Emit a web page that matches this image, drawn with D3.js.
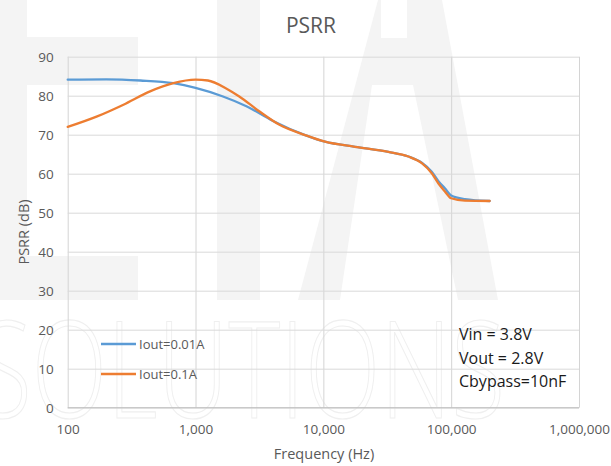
<!DOCTYPE html>
<html lang="en">
<head>
<meta charset="utf-8">
<title>PSRR</title>
<script src="https://cdn.jsdelivr.net/npm/d3@7/dist/d3.min.js"></script>
<style>
  body { margin: 0; background: #fff; }
  svg { display: block; font-family: "Open Sans", "DejaVu Sans", sans-serif; }
</style>
</head>
<body>
<div id="chart"></div>
<script>
// chart values
var freqTicks = [100, 1000, 10000, 100000, 1000000];
var dbTicks = [0, 10, 20, 30, 40, 50, 60, 70, 80, 90];

var seriesNames = ["Iout=0.01A", "Iout=0.1A"];
var seriesColors = ["#5b9bd5", "#ed7d31"];

var lowFreq = [100, 200, 370, 670, 1000, 1640, 2500, 4000, 7200, 10300, 17700, 32300, 46300, 58900, 70500, 79500, 89600, 100000, 128000, 200000];
var lowDb   = [84.1, 84.2, 83.9, 83.2, 82.0, 79.8, 77.3, 73.6, 69.9, 68.2, 66.9, 65.6, 64.4, 62.8, 60.5, 58.1, 56.2, 54.4, 53.5, 53.0];

var highFreq = [100, 170, 273, 441, 670, 1000, 1250, 1750, 2200, 3150, 4500, 7200, 10300, 17700, 32300, 46300, 58900, 70500, 79500, 89600, 100000, 128000, 200000];
var highDb   = [72.0, 74.7, 77.7, 81.1, 83.2, 84.1, 83.9, 81.8, 79.8, 76.0, 72.6, 69.9, 68.2, 66.9, 65.6, 64.4, 62.7, 60.1, 57.5, 55.4, 53.7, 53.1, 53.0];

var notes = ["Vin = 3.8V", "Vout = 2.8V", "Cbypass=10nF"];

var width = 611, height = 466;
var plotLeft = 67.7, plotRight = 579, plotTop = 56.7, plotBottom = 407.7;

var svg = d3.select("#chart").append("svg")
    .attr("width", width)
    .attr("height", height);

svg.append("rect").attr("width", width).attr("height", height).attr("fill", "#fff");

// faint watermark behind everything
var wm = svg.append("g").attr("fill", "#f4f4f4");
wm.append("rect").attr("x", 0).attr("y", 0).attr("width", 27).attr("height", 300);
wm.append("rect").attr("x", 0).attr("y", 37).attr("width", 138).attr("height", 48);
wm.append("rect").attr("x", 0).attr("y", 256).attr("width", 138).attr("height", 44);
wm.append("rect").attr("x", 217).attr("y", 0).attr("width", 43).attr("height", 300);
wm.append("polygon")
    .attr("points", "378,0 381,0 381,38 407,38 407,0 442,0 498,300 458,300 413,85 372,85 340,300 298,300");
svg.append("text")
    .attr("x", -22).attr("y", 418)
    .attr("font-size", 134)
    .attr("font-weight", 300)
    .attr("textLength", 527)
    .attr("lengthAdjust", "spacingAndGlyphs")
    .attr("fill", "none")
    .attr("stroke", "#efefef")
    .attr("stroke-width", 1.2)
    .text("SOLUTIONS");

var x = d3.scaleLog().domain([100, 1000000]).range([plotLeft, plotRight]);
var y = d3.scaleLinear().domain([0, 90]).range([plotBottom, plotTop]);

// grid
svg.append("g")
    .attr("transform", "translate(0," + plotBottom + ")")
    .call(d3.axisBottom(x).tickValues(freqTicks).tickSize(-(plotBottom - plotTop)).tickFormat(""))
    .call(function(g) {
        g.select(".domain").remove();
        g.selectAll("line").attr("stroke", "#d4d4d4");
    });
svg.append("g")
    .attr("transform", "translate(" + plotLeft + ",0)")
    .call(d3.axisLeft(y).tickValues(dbTicks).tickSize(-(plotRight - plotLeft)).tickFormat(""))
    .call(function(g) {
        g.select(".domain").remove();
        g.selectAll("line").attr("stroke", "#d9d9d9");
    });
svg.append("line")
    .attr("x1", plotLeft).attr("x2", plotRight)
    .attr("y1", y(0)).attr("y2", y(0))
    .attr("stroke", "#bfbfbf");

// tick labels
svg.append("g")
    .attr("transform", "translate(0," + plotBottom + ")")
    .call(d3.axisBottom(x).tickValues(freqTicks).tickSize(0).tickPadding(17).tickFormat(d3.format(",")))
    .call(function(g) {
        g.select(".domain").remove();
        g.selectAll("text").attr("fill", "#595959").attr("font-size", 13.5)
            .attr("font-family", "Open Sans, sans-serif");
    });
svg.append("g")
    .attr("transform", "translate(" + plotLeft + ",0)")
    .call(d3.axisLeft(y).tickValues(dbTicks).tickSize(0).tickPadding(14))
    .call(function(g) {
        g.select(".domain").remove();
        g.selectAll("text").attr("fill", "#595959").attr("font-size", 13.5)
            .attr("font-family", "Open Sans, sans-serif");
    });

// titles
svg.append("text")
    .attr("x", 311).attr("y", 33)
    .attr("text-anchor", "middle")
    .attr("font-size", 21)
    .attr("fill", "#595959")
    .text("PSRR");
svg.append("text")
    .attr("x", 324).attr("y", 459)
    .attr("text-anchor", "middle")
    .attr("font-size", 14.5)
    .attr("fill", "#595959")
    .text("Frequency (Hz)");
svg.append("text")
    .attr("transform", "translate(29,232) rotate(-90)")
    .attr("text-anchor", "middle")
    .attr("font-size", 14.5)
    .attr("fill", "#595959")
    .text("PSRR (dB)");

// series
var series = [
    lowFreq.map(function(f, i) { return {f: f, v: lowDb[i]}; }),
    highFreq.map(function(f, i) { return {f: f, v: highDb[i]}; })
];

var line = d3.line()
    .x(function(d) { return x(d.f); })
    .y(function(d) { return y(d.v); })
    .curve(d3.curveMonotoneX);

svg.selectAll(".series")
    .data(series)
    .enter().append("path")
    .attr("class", "series")
    .attr("d", line)
    .attr("fill", "none")
    .attr("stroke", function(d, i) { return seriesColors[i]; })
    .attr("stroke-width", 2.3)
    .attr("stroke-linejoin", "round")
    .attr("stroke-linecap", "round");

// legend
var legend = svg.selectAll(".legend")
    .data(seriesNames)
    .enter().append("g")
    .attr("class", "legend")
    .attr("transform", function(d, i) { return "translate(101," + (344 + i * 30) + ")"; });
legend.append("line")
    .attr("x1", 0).attr("x2", 35)
    .attr("stroke", function(d, i) { return seriesColors[i]; })
    .attr("stroke-width", 2.3);
legend.append("text")
    .attr("x", 38).attr("y", 5)
    .attr("font-size", 13)
    .attr("fill", "#595959")
    .text(function(d) { return d; });

// conditions box
svg.selectAll(".note")
    .data(notes)
    .enter().append("text")
    .attr("class", "note")
    .attr("x", 459)
    .attr("y", function(d, i) { return 340 + i * 23.7; })
    .attr("font-size", 16)
    .attr("fill", "#1a1a1a")
    .text(function(d) { return d; });
</script>
</body>
</html>
